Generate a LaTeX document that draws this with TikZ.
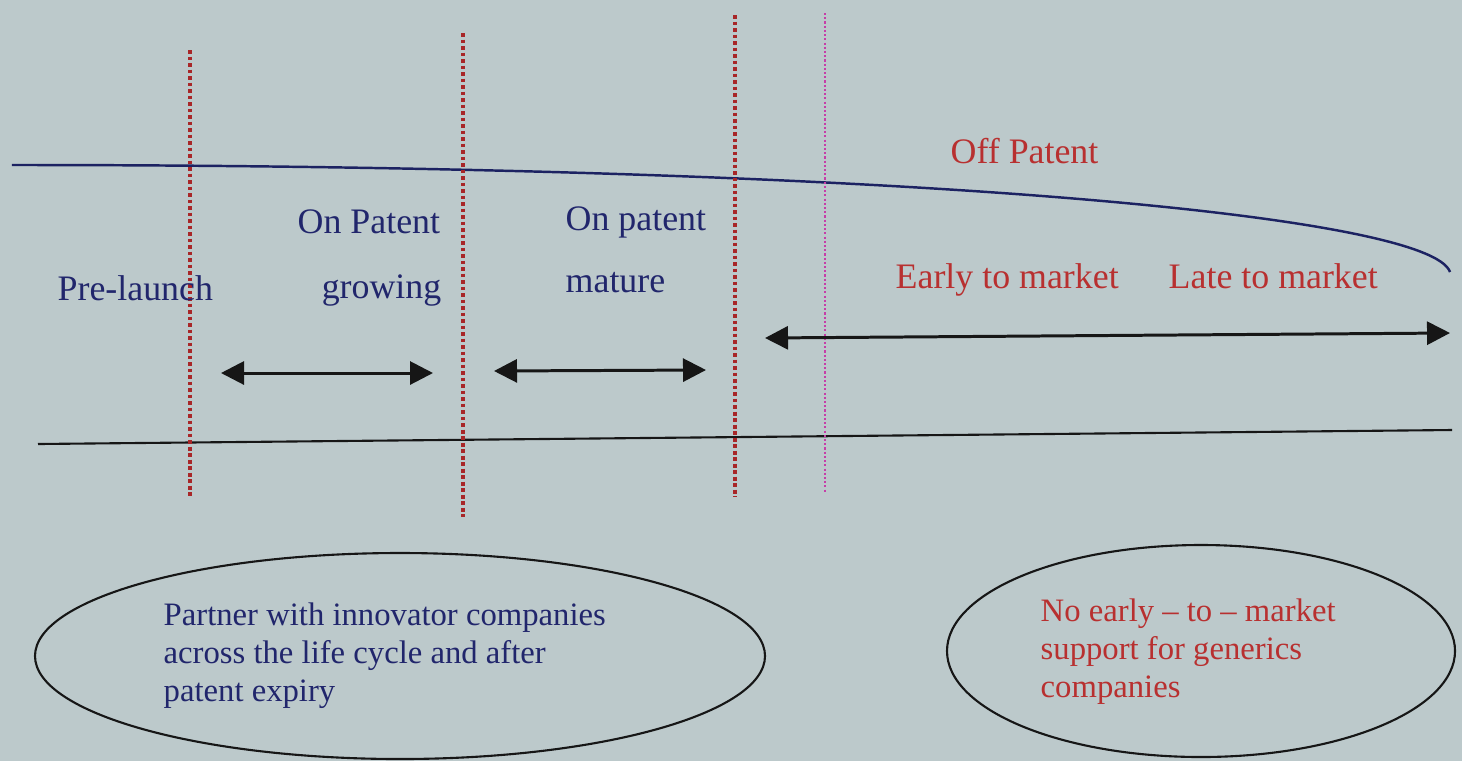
\documentclass[tikz,border=0pt]{standalone}
\usepackage{fontspec}
\setmainfont{Liberation Serif}
\usetikzlibrary{arrows.meta,shapes.geometric}
\definecolor{paper}{RGB}{188,201,203}
\definecolor{navytext}{RGB}{33,38,108}
\definecolor{redtext}{RGB}{184,48,48}
\definecolor{boundaryred}{RGB}{168,38,40}
\definecolor{offmagenta}{RGB}{198,62,168}
\definecolor{curveblue}{RGB}{28,34,98}
\definecolor{inkblack}{RGB}{22,22,22}
\begin{document}
\begin{tikzpicture}[
    boundary/.style={boundaryred, line width=1.2pt, dash pattern=on 1.1pt off 0.75pt},
    expiryline/.style={offmagenta, line width=0.55pt, dash pattern=on 0.6pt off 0.6pt},
    stagearrow/.style={inkblack, line width=0.85pt, {Triangle[length=2.3mm,width=2.3mm]}-{Triangle[length=2.3mm,width=2.3mm]}},
    phaselabel/.style={inner sep=0pt, font=\fontsize{10.2}{12}\selectfont},
    bubble/.style={ellipse, draw=inkblack, line width=0.6pt, inner sep=0pt},
    bubbletext/.style={inner sep=0pt, anchor=west, align=left, font=\fontsize{9.3}{10.8}\selectfont}
  ]
                \fill [paper] (0,0) rectangle (14.620000,7.610000);%
                \useasboundingbox (0,0) rectangle (14.620000,7.610000);%

                % Drawing sales curve
                \draw [curveblue, line width=0.7pt] (0.120000,5.960000) .. controls (9.000000,5.960000) and (14.300000,5.460000) .. (14.500000,4.890000);%

                % Drawing base line
                \draw [inkblack, line width=0.6pt] (0.380000,3.170000) -- (14.520000,3.310000);%

                % Drawing phase boundaries
                \draw [boundary] (1.900000,7.110000) -- (1.900000,2.630000);%
                \draw [boundary] (4.630000,7.280000) -- (4.630000,2.440000);%
                \draw [boundary] (7.350000,7.460000) -- (7.350000,2.640000);%
                \draw [expiryline] (8.250000,7.480000) -- (8.250000,2.690000);%

                % Marking phase labels
                \node [phaselabel, navytext, anchor=base west] (prelaunch) at (0.570000,4.610000) {Pre-launch};%
                \node [phaselabel, navytext, anchor=base west] (ongrowtop) at (2.970000,5.280000) {On Patent};%
                \node [phaselabel, navytext, anchor=base east] (ongrowbot) at (4.420000,4.630000) {growing};%
                \node [phaselabel, navytext, anchor=base west] (onmaturetop) at (5.650000,5.310000) {On patent};%
                \node [phaselabel, navytext, anchor=base west] (onmaturebot) at (5.650000,4.690000) {mature};%
                \node [phaselabel, redtext, anchor=base west] (offpatent) at (9.500000,5.980000) {Off Patent};%
                \node [phaselabel, redtext, anchor=base west] (early) at (8.950000,4.730000) {Early to market};%
                \node [phaselabel, redtext, anchor=base west] (late) at (11.680000,4.730000) {Late to market};%

                % Drawing phase spans
                \coordinate (growL) at (2.210000,3.880000);%
                \coordinate (growR) at (4.330000,3.880000);%
                \coordinate (matureL) at (4.940000,3.900000);%
                \coordinate (matureR) at (7.060000,3.910000);%
                \coordinate (offL) at (7.650000,4.230000);%
                \coordinate (offR) at (14.500000,4.280000);%
                \draw [stagearrow] (growL) -- (growR);%
                \draw [stagearrow] (matureL) -- (matureR);%
                \draw [stagearrow] (offL) -- (offR);%

                % Marking the two offers
                \node [bubble, minimum width=7.300000cm, minimum height=2.060000cm] (partner) at (4.000000,1.050000) {};%
                \node [bubbletext, text=navytext] (partnertext) at ([xshift=-2.370000cm]partner.center)
                  {Partner with innovator companies\\across the life cycle and after\\patent expiry};%
                \node [bubble, minimum width=5.080000cm, minimum height=2.120000cm] (nosupport) at (12.010000,1.100000) {};%
                \node [bubbletext, text=redtext] (nosupporttext) at ([xshift=-1.610000cm,yshift=-0.010000cm]nosupport.center)
                  {No early -- to -- market\\support for generics\\companies};%
\end{tikzpicture}
\end{document}
